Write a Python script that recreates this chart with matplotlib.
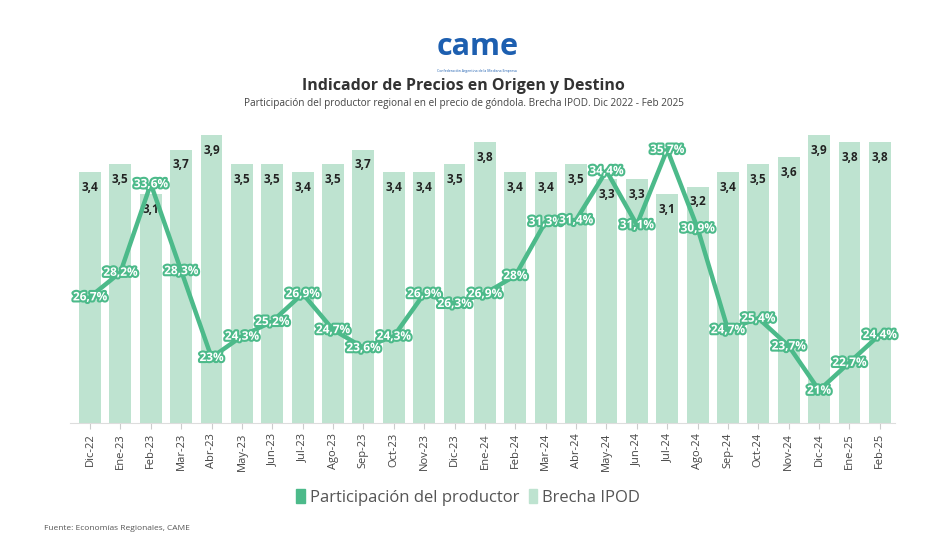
import numpy as np
import matplotlib
matplotlib.use('Agg')
from matplotlib import pyplot as plt
from matplotlib import patheffects as pe
from matplotlib.patches import Patch

plt.rcParams['font.family'] = ['Open Sans', 'DejaVu Sans']

meses = ['Dic-22', 'Ene-23', 'Feb-23', 'Mar-23', 'Abr-23', 'May-23', 'Jun-23', 'Jul-23', 'Ago-23',
         'Sep-23', 'Oct-23', 'Nov-23', 'Dic-23', 'Ene-24', 'Feb-24', 'Mar-24', 'Abr-24', 'May-24',
         'Jun-24', 'Jul-24', 'Ago-24', 'Sep-24', 'Oct-24', 'Nov-24', 'Dic-24', 'Ene-25', 'Feb-25']
brecha = [3.4, 3.5, 3.1, 3.7, 3.9, 3.5, 3.5, 3.4, 3.5, 3.7, 3.4, 3.4, 3.5, 3.8, 3.4, 3.4, 3.5, 3.3,
          3.3, 3.1, 3.2, 3.4, 3.5, 3.6, 3.9, 3.8, 3.8]
participacion = [26.7, 28.2, 33.6, 28.3, 23, 24.3, 25.2, 26.9, 24.7, 23.6, 24.3, 26.9, 26.3, 26.9,
                 28, 31.3, 31.4, 34.4, 31.1, 35.7, 30.9, 24.7, 25.4, 23.7, 21, 22.7, 24.4]

verde = '#4cba8a'
verde_claro = '#bee3d0'

def fmt(v, pct=False):
    s = ('%g' % v) if pct else ('%.1f' % v)
    s = s.replace('.', ',')
    return s + '%' if pct else s

fig = plt.figure(figsize=(9.27, 5.53), dpi=100)
ax = fig.add_axes([0.0755, 0.235, 0.89, 0.548])
x = np.arange(len(meses))

ax.bar(x, brecha, width=0.72, color=verde_claro, zorder=1)
for xi, v in zip(x, brecha):
    ax.annotate(fmt(v), (xi, v), xytext=(0, -11), textcoords='offset points',
                ha='center', va='center', fontsize=8.5, fontweight='bold', color='#222222', zorder=2)
ax.set_ylim(0, 4.1)
ax.set_xlim(-0.66, 26.5)
ax.set_yticks([])
for s in ['top', 'right', 'left']:
    ax.spines[s].set_visible(False)
ax.spines['bottom'].set_color('#dddddd')
ax.set_xticks(x)
ax.set_xticklabels(meses, rotation=90, fontsize=8, color='#444444')
ax.tick_params(axis='x', length=4, color='#cccccc', pad=3)

ax2 = ax.twinx()
ax2.plot(x, participacion, color=verde, lw=3.2, zorder=3)
ax2.set_ylim(19, 37.5)
ax2.axis('off')
for xi, v in zip(x, participacion):
    ax2.text(xi, v, fmt(v, True), ha='center', va='center', fontsize=8.5, fontweight='bold',
             color='white', zorder=4,
             path_effects=[pe.withStroke(linewidth=3, foreground=verde)])

# logo
fig.text(0.515, 0.915, 'came', ha='center', va='center', fontsize=22, fontweight='bold',
         color='#1d5fb0')
fig.text(0.515, 0.872, 'Confederación Argentina de la Mediana Empresa', ha='center', va='center',
         fontsize=2.5, color='#1d5fb0')

fig.text(0.5, 0.845, 'Indicador de Precios en Origen y Destino', ha='center', va='center',
         fontsize=11.5, fontweight='bold', color='#333333')
fig.text(0.5, 0.812, 'Participación del productor regional en el precio de góndola. Brecha IPOD. Dic 2022 - Feb 2025',
         ha='center', va='center', fontsize=7.2, color='#444444')

handles = [Patch(color=verde, label='Participación del productor'),
           Patch(color=verde_claro, label='Brecha IPOD')]
fig.legend(handles=handles, loc='center', bbox_to_anchor=(0.505, 0.1), ncol=2, frameon=False,
           fontsize=12, handlelength=0.5, handleheight=0.9, handletextpad=0.3, columnspacing=0.6,
           labelcolor='#555555')

fig.text(0.048, 0.042, 'Fuente: Economías Regionales, CAME', fontsize=6, color='#555555')

fig.savefig('out.png', dpi=100)
